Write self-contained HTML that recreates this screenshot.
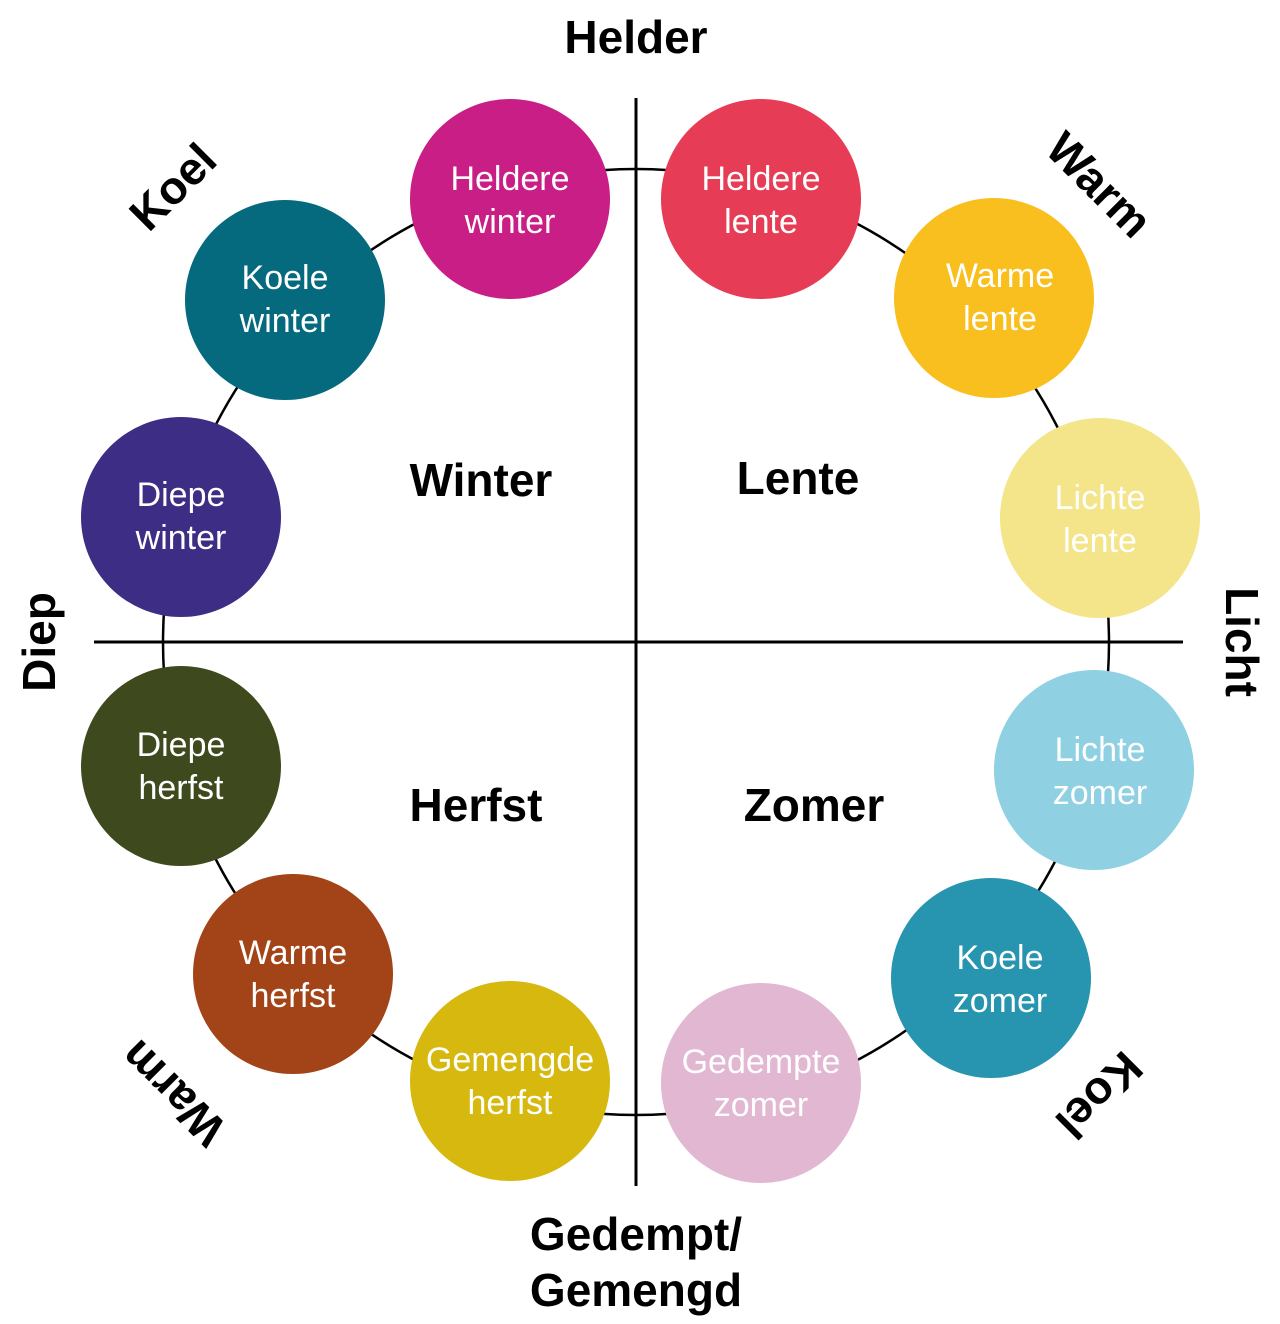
<!DOCTYPE html>
<html><head><meta charset="utf-8"><style>
html,body{margin:0;padding:0;background:#fff;}
svg{display:block;}
text{font-family:"Liberation Sans",sans-serif;}
.c{fill:#fff;font-size:34px;text-anchor:middle;}
.q{fill:#000;font-size:46px;font-weight:bold;text-anchor:middle;}
</style></head><body>
<svg width="1280" height="1324" viewBox="0 0 1280 1324" xmlns="http://www.w3.org/2000/svg">
<circle cx="636" cy="642" r="473" fill="none" stroke="#000" stroke-width="2.5"/>
<line x1="636" y1="98" x2="636" y2="1186" stroke="#000" stroke-width="3"/>
<line x1="94" y1="642" x2="1183" y2="642" stroke="#000" stroke-width="3"/>

<circle cx="510" cy="199" r="100" fill="#c81e85"/>
<text class="c" x="510" y="190">Heldere</text><text class="c" x="510" y="233">winter</text>
<circle cx="761" cy="199" r="100" fill="#e63c55"/>
<text class="c" x="761" y="190">Heldere</text><text class="c" x="761" y="233">lente</text>
<circle cx="285" cy="300" r="100" fill="#056a7d"/>
<text class="c" x="285" y="289">Koele</text><text class="c" x="285" y="332">winter</text>
<circle cx="994" cy="298" r="100" fill="#f9bf1e"/>
<text class="c" x="1000" y="287">Warme</text><text class="c" x="1000" y="330">lente</text>
<circle cx="181" cy="517" r="100" fill="#3d2d84"/>
<text class="c" x="181" y="506">Diepe</text><text class="c" x="181" y="549">winter</text>
<circle cx="1100" cy="518" r="100" fill="#f4e48a"/>
<text class="c" x="1100" y="509">Lichte</text><text class="c" x="1100" y="552">lente</text>
<circle cx="181" cy="766" r="100" fill="#3e4a1e"/>
<text class="c" x="181" y="756">Diepe</text><text class="c" x="181" y="799">herfst</text>
<circle cx="1094" cy="770" r="100" fill="#8fd0e3"/>
<text class="c" x="1100" y="761">Lichte</text><text class="c" x="1100" y="804">zomer</text>
<circle cx="293" cy="974" r="100" fill="#a34418"/>
<text class="c" x="293" y="964">Warme</text><text class="c" x="293" y="1007">herfst</text>
<circle cx="991" cy="978" r="100" fill="#2795b0"/>
<text class="c" x="1000" y="969">Koele</text><text class="c" x="1000" y="1012">zomer</text>
<circle cx="510" cy="1081" r="100" fill="#d6b80f"/>
<text class="c" x="510" y="1071">Gemengde</text><text class="c" x="510" y="1114">herfst</text>
<circle cx="761" cy="1083" r="100" fill="#e2b7d2"/>
<text class="c" x="761" y="1073">Gedempte</text><text class="c" x="761" y="1116">zomer</text>

<text class="q" x="481" y="496">Winter</text>
<text class="q" x="798" y="494">Lente</text>
<text class="q" x="476" y="821">Herfst</text>
<text class="q" x="814" y="821">Zomer</text>

<text class="q" x="636" y="53">Helder</text>
<text class="q" x="636" y="1250">Gedempt/</text>
<text class="q" x="636" y="1306">Gemengd</text>
<text class="q" transform="translate(55,642) rotate(-90)">Diep</text>
<text class="q" transform="translate(1226,642) rotate(90)">Licht</text>
<text class="q" transform="translate(184,198) rotate(-45)">Koel</text>
<text class="q" transform="translate(1088,196) rotate(45)">Warm</text>
<text class="q" transform="translate(184,1082) rotate(-135)">Warm</text>
<text class="q" transform="translate(1088,1084) rotate(135)">Koel</text>
</svg>
</body></html>
